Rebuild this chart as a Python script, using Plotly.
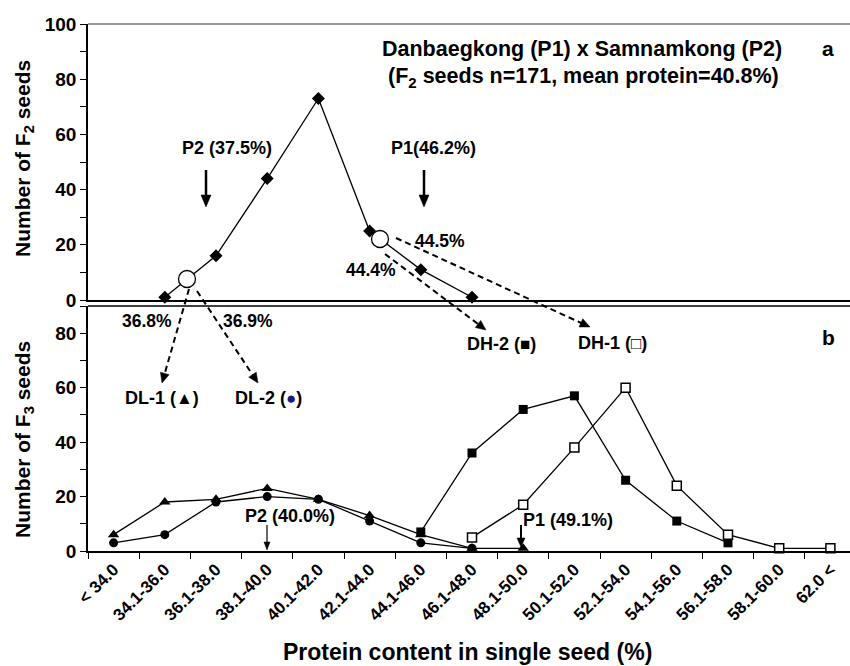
import plotly.graph_objects as go

# Protein-content classes (x axis)
categories = ["< 34.0", "34.1-36.0", "36.1-38.0", "38.1-40.0", "40.1-42.0",
              "42.1-44.0", "44.1-46.0", "46.1-48.0", "48.1-50.0", "50.1-52.0",
              "52.1-54.0", "54.1-56.0", "56.1-58.0", "58.1-60.0", "62.0 <"]

# Panel a: F2 seed distribution
f2_bins = categories[1:8]
f2_counts = [1, 16, 44, 73, 25, 11, 1]

# Panel b: F3 seed distributions of the selected lines
dl1_bins = categories[0:9]
dl1_counts = [6, 18, 19, 23, 19, 13, 6, 1, 1]
dl2_bins = categories[0:8]
dl2_counts = [3, 6, 18, 20, 19, 11, 3, 1]
dh2_bins = categories[6:13]
dh2_counts = [7, 36, 52, 57, 26, 11, 3]
dh1_bins = categories[7:15]
dh1_counts = [5, 17, 38, 60, 24, 6, 1, 1]

y_ticks_a = [0, 20, 40, 60, 80, 100]
y_ticks_b = [0, 20, 40, 60, 80]

W, H = 850, 666
L, R, T, B = 88, 850, 24, 551     # plot area in page pixels
CAT_W = 51.2                        # pixel width of one class
TOP_A_BOTTOM = 300                  # zero line of panel a
TOP_B = 306                         # upper frame of panel b

FONT = "Liberation Sans, Arial, Helvetica, sans-serif"


def fx(px):
    return (px - L) / (R - L)


def fy(py):
    return (B - py) / (B - T)


line_style = dict(color="black", width=1.3)

fig = go.Figure()
fig.add_trace(go.Scatter(x=f2_bins, y=f2_counts, xaxis="x2", yaxis="y2",
                         mode="lines+markers", line=line_style,
                         marker=dict(symbol="diamond", size=10, color="black"),
                         cliponaxis=False, showlegend=False))
fig.add_trace(go.Scatter(x=dl1_bins, y=dl1_counts, mode="lines+markers",
                         line=line_style,
                         marker=dict(symbol="triangle-up", size=10, color="black"),
                         cliponaxis=False, showlegend=False))
fig.add_trace(go.Scatter(x=dl2_bins, y=dl2_counts, mode="lines+markers",
                         line=line_style,
                         marker=dict(symbol="circle", size=9, color="black"),
                         cliponaxis=False, showlegend=False))
fig.add_trace(go.Scatter(x=dh2_bins, y=dh2_counts, mode="lines+markers",
                         line=line_style,
                         marker=dict(symbol="square", size=9, color="black"),
                         cliponaxis=False, showlegend=False))
fig.add_trace(go.Scatter(x=dh1_bins, y=dh1_counts, mode="lines+markers",
                         line=line_style,
                         marker=dict(symbol="square", size=9, color="white",
                                     line=dict(color="black", width=1.5)),
                         cliponaxis=False, showlegend=False))

x_range = [-0.5, -0.5 + (R - L) / CAT_W]
bold = dict(family=FONT, color="black", weight="bold")

fig.update_layout(
    width=W, height=H,
    margin=dict(l=L, r=W - R, t=T, b=H - B, pad=0),
    paper_bgcolor="white", plot_bgcolor="white",
    font=dict(family=FONT, color="black", weight="bold"),
    showlegend=False,
    xaxis=dict(domain=[0, 1], anchor="y", type="category",
               categoryorder="array", categoryarray=categories,
               range=x_range, tickson="boundaries", ticks="outside",
               ticklen=6, tickwidth=1, tickcolor="black",
               showline=True, linewidth=2, linecolor="black",
               tickangle=-45, tickfont=dict(size=17, **bold),
               showgrid=False, zeroline=False),
    xaxis2=dict(domain=[0, 1], anchor="y2", matches="x", type="category",
                categoryorder="array", categoryarray=categories,
                showticklabels=False, ticks="", showline=True, linewidth=2,
                linecolor="black", showgrid=False, zeroline=False),
    yaxis=dict(domain=[0, fy(TOP_B)], anchor="x", range=[0, 90],
               tickmode="array", tickvals=y_ticks_b, ticks="outside",
               ticklen=6, tickwidth=1, tickcolor="black",
               minor=dict(tickmode="linear", tick0=0, dtick=10, ticks="outside",
                          ticklen=6, tickwidth=1, tickcolor="black", showgrid=False),
               showline=True, linewidth=1.5, linecolor="black",
               tickfont=dict(size=19, **bold), showgrid=False, zeroline=False),
    yaxis2=dict(domain=[fy(TOP_A_BOTTOM), 1], anchor="x2", range=[0, 100],
                tickmode="array", tickvals=y_ticks_a, ticks="outside",
                ticklen=6, tickwidth=1, tickcolor="black",
                minor=dict(tickmode="linear", tick0=0, dtick=10, ticks="outside",
                           ticklen=6, tickwidth=1, tickcolor="black", showgrid=False),
                showline=True, linewidth=1.5, linecolor="black",
                tickfont=dict(size=19, **bold), showgrid=False, zeroline=False),
)

shapes = []
# upper frame lines of both panels
shapes.append(dict(type="line", xref="paper", yref="paper", x0=0, x1=1,
                   y0=1, y1=1, line=dict(color="#333", width=1.2)))
shapes.append(dict(type="line", xref="paper", yref="paper", x0=0, x1=1,
                   y0=fy(TOP_B), y1=fy(TOP_B), line=dict(color="black", width=1.5)))


def arrow(x0, y0, x1, y1, width=2, head_len=10, head_w=9, dash=None):
    """Arrow from (x0,y0) to tip (x1,y1) in page pixels."""
    dx, dy = x1 - x0, y1 - y0
    n = (dx * dx + dy * dy) ** 0.5
    ux, uy = dx / n, dy / n
    bx, by = x1 - ux * head_len, y1 - uy * head_len
    px_, py_ = -uy, ux
    ln = dict(color="black", width=width)
    if dash:
        ln["dash"] = dash
    shapes.append(dict(type="line", xref="paper", yref="paper",
                       x0=fx(x0), y0=fy(y0), x1=fx(bx + ux), y1=fy(by + uy),
                       line=ln, layer="above"))
    pts = [(x1, y1), (bx + px_ * head_w / 2, by + py_ * head_w / 2),
           (bx - px_ * head_w / 2, by - py_ * head_w / 2)]
    path = "M " + " L ".join(f"{fx(a):.5f},{fy(b):.5f}" for a, b in pts) + " Z"
    shapes.append(dict(type="path", xref="paper", yref="paper", path=path,
                       fillcolor="black", line=dict(color="black", width=0.5),
                       layer="above"))


# parent protein levels
arrow(206, 170, 206, 207, width=2.5, head_len=12, head_w=10)
arrow(424, 170, 424, 207, width=2.5, head_len=12, head_w=10)
arrow(267, 525, 267, 550, width=1.2, head_len=8, head_w=6)
arrow(521, 525, 521, 547, width=2, head_len=9, head_w=8)

# selected single seeds traced into panel b
dash = "6px,4px"
arrow(189, 289, 162, 383, width=2, head_len=10, head_w=9, dash=dash)
arrow(197, 291, 258, 383, width=2, head_len=10, head_w=9, dash=dash)
arrow(385, 254, 486, 330, width=2, head_len=10, head_w=9, dash=dash)
arrow(396, 238, 590, 327, width=2, head_len=10, head_w=9, dash=dash)

# selected seed positions on the F2 curve
for cx, cy in [(187, 279), (380, 239)]:
    r = 8.5
    shapes.append(dict(type="circle", xref="paper", yref="paper",
                       x0=fx(cx - r), x1=fx(cx + r), y0=fy(cy + r), y1=fy(cy - r),
                       line=dict(color="black", width=1.3), fillcolor="white",
                       layer="above"))

fig.update_layout(shapes=shapes)


def label(text, x, y, size=18, angle=0):
    fig.add_annotation(text=text, xref="paper", yref="paper", x=fx(x), y=fy(y),
                       xanchor="center", yanchor="middle", showarrow=False,
                       textangle=angle, font=dict(size=size, **bold))


label("Danbaegkong (P1) x Samnamkong (P2)", 582, 49, size=21.5)
label("(F<sub>2</sub> seeds n=171, mean protein=40.8%)", 583, 77, size=21.5)
label("a", 828, 48, size=21)
label("b", 828, 337, size=21)
label("P2 (37.5%)", 227, 148, size=18)
label("P1(46.2%)", 433, 148, size=18)
label("44.4%", 371, 270, size=17.5)
label("44.5%", 440, 241, size=17.5)
label("36.8%", 147, 321, size=17.5)
label("36.9%", 248, 321, size=17.5)
label("DL-1 (<span style='font-size:17px'>▲</span>)", 162, 398, size=18)
label("DL-2 (<span style='font-size:17px;color:#1a1a80'>●</span>)", 268, 398, size=18)
label("DH-2 (<span style='font-size:17px'>■</span>)", 501, 344, size=18)
label("DH-1 (<span style='font-size:17px'>□</span>)", 612, 343, size=18)
label("P2 (40.0%)", 290, 516, size=18)
label("P1 (49.1%)", 568, 520, size=18)
label("Protein content in single seed (%)", 467, 652, size=23)
label("Number of F<sub>2</sub> seeds", 24, 159, size=21, angle=-90)
label("Number of F<sub>3</sub> seeds", 24, 440, size=21, angle=-90)

fig.write_html("out.html")
